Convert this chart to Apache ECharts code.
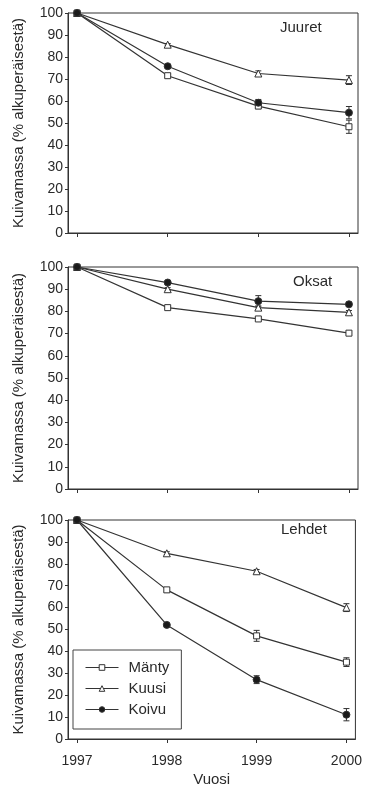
<!DOCTYPE html>
<html>
<head>
<meta charset="utf-8">
<script src="https://cdn.jsdelivr.net/npm/echarts@6/dist/echarts.min.js"></script>
<style>html,body{margin:0;padding:0;background:#fff;}#c{width:365px;height:788px;}</style>
</head>
<body>
<div id="c"></div>
<script>
const years = [1997, 1998, 1999, 2000];
const yTicks = [0, 10, 20, 30, 40, 50, 60, 70, 80, 90, 100];
const speciesNames = ['Mänty', 'Kuusi', 'Koivu'];
const panelNames = ['Juuret', 'Oksat', 'Lehdet'];

// Juuret
const juuretManty = [100, 71.5, 57.7, 48.3];
const juuretMantyErr = [0, 0.8, 1.2, 3.0];
const juuretKuusi = [100, 85.6, 72.5, 69.5];
const juuretKuusiErr = [0, 0.5, 1.2, 2.0];
const juuretKoivu = [100, 75.8, 59.2, 54.7];
const juuretKoivuErr = [0, 0.8, 1.5, 2.8];
// Oksat
const oksatManty = [100, 81.7, 76.6, 70.2];
const oksatMantyErr = [0, 0.6, 0.6, 0.6];
const oksatKuusi = [100, 90.0, 81.7, 79.6];
const oksatKuusiErr = [0, 0.7, 0.8, 0.8];
const oksatKoivu = [100, 93.0, 84.6, 83.2];
const oksatKoivuErr = [0, 0.8, 2.5, 1.0];
// Lehdet
const lehdetManty = [100, 68.1, 47.1, 35.1];
const lehdetMantyErr = [0, 1.0, 2.5, 2.0];
const lehdetKuusi = [100, 84.8, 76.6, 60.0];
const lehdetKuusiErr = [0, 0.7, 0.8, 1.8];
const lehdetKoivu = [100, 52.1, 27.1, 11.1];
const lehdetKoivuErr = [0, 0.8, 1.8, 2.8];

const panels = [
  [juuretManty, juuretKuusi, juuretKoivu],
  [oksatManty, oksatKuusi, oksatKoivu],
  [lehdetManty, lehdetKuusi, lehdetKoivu]
];
const panelErrs = [
  [juuretMantyErr, juuretKuusiErr, juuretKoivuErr],
  [oksatMantyErr, oksatKuusiErr, oksatKoivuErr],
  [lehdetMantyErr, lehdetKuusiErr, lehdetKoivuErr]
];

const FONT = '"Liberation Sans", Arial, sans-serif';
const INK = '#2a2a2a';
const LINE = '#333';

const gridDefs = [
  {top: 13, height: 220},
  {top: 267, height: 222},
  {top: 520, height: 219}
];

const grids = gridDefs.map(g => ({
  left: 68, right: 7, top: g.top, height: g.height,
  show: true, borderColor: LINE, borderWidth: 1, backgroundColor: 'transparent'
}));

const xAxes = gridDefs.map((g, i) => ({
  type: 'value', gridIndex: i, min: 1996.9, max: 2000.1,
  axisLine: {show: true, onZero: false, lineStyle: {color: LINE, width: 1}},
  axisTick: {show: true, inside: false, length: 4, customValues: years, lineStyle: {color: LINE}},
  axisLabel: {show: i === 2, customValues: years, margin: 15, color: INK, fontSize: 14, fontFamily: FONT,
    formatter: v => String(Math.round(v))},
  splitLine: {show: false},
  name: i === 2 ? 'Vuosi' : '', nameLocation: 'middle', nameGap: 33,
  nameTextStyle: {color: INK, fontSize: 15, fontFamily: FONT}
}));

const yAxes = gridDefs.map((g, i) => ({
  type: 'value', gridIndex: i, min: 0, max: 100, interval: 10,
  axisLine: {show: true, lineStyle: {color: LINE, width: 1}},
  axisTick: {show: true, inside: false, length: 3, lineStyle: {color: LINE}},
  axisLabel: {show: true, margin: 5, color: INK, fontSize: 14, fontFamily: FONT,
    formatter: v => yTicks.includes(v) ? String(v) : ''},
  splitLine: {show: false},
  name: 'Kuivamassa (% alkuperäisestä)', nameLocation: 'middle', nameGap: 42, nameRotate: 90,
  nameTextStyle: {color: INK, fontSize: 15, fontFamily: FONT}
}));

const symbols = [
  {symbol: 'rect', fill: '#fff', size: 6},
  {symbol: 'triangle', fill: '#fff', size: 7},
  {symbol: 'circle', fill: '#1a1a1a', size: 7}
];

const series = [];
panels.forEach((vals, p) => {
  vals.forEach((arr, s) => {
    const errs = panelErrs[p][s];
    series.push({
      type: 'custom', xAxisIndex: p, yAxisIndex: p, z: 1, silent: true,
      data: years.map((y, k) => [y, arr[k], errs[k]]),
      renderItem: function (params, api) {
        const x = api.value(0), y = api.value(1), e = api.value(2);
        if (!e) return null;
        const top = api.coord([x, y + e]);
        const bot = api.coord([x, y - e]);
        const w = 3;
        const st = {stroke: LINE, lineWidth: 1};
        return {type: 'group', children: [
          {type: 'line', shape: {x1: top[0], y1: top[1], x2: bot[0], y2: bot[1]}, style: st},
          {type: 'line', shape: {x1: top[0] - w, y1: top[1], x2: top[0] + w, y2: top[1]}, style: st},
          {type: 'line', shape: {x1: bot[0] - w, y1: bot[1], x2: bot[0] + w, y2: bot[1]}, style: st}
        ]};
      }
    });
    series.push({
      type: 'line', name: speciesNames[s], xAxisIndex: p, yAxisIndex: p, z: 3,
      data: years.map((y, k) => [y, arr[k]]),
      symbol: symbols[s].symbol, symbolSize: symbols[s].size, showSymbol: true,
      lineStyle: {color: LINE, width: 1.2},
      itemStyle: {color: symbols[s].fill, borderColor: LINE, borderWidth: 1},
      emphasis: {disabled: true}, animation: false
    });
  });
});

const option = {
  animation: false,
  backgroundColor: '#fff',
  grid: grids,
  xAxis: xAxes,
  yAxis: yAxes,
  series: series,
  legend: {
    data: speciesNames,
    orient: 'vertical',
    left: 73, top: 650,
    width: 106,
    padding: [10, 12, 12, 12],
    itemWidth: 33, itemHeight: 7, itemGap: 6,
    lineStyle: {width: 1, color: LINE},
    itemStyle: {borderWidth: 1, borderColor: LINE},
    borderColor: '#444', borderWidth: 1,
    backgroundColor: '#fff',
    textStyle: {color: INK, fontSize: 15, fontFamily: FONT, padding: [0, 0, 0, 5]},
    selectedMode: false
  },
  graphic: [
    {type: 'text', left: 280, top: 20, style: {text: panelNames[0], fill: INK, font: '15px ' + FONT}},
    {type: 'text', left: 293, top: 274, style: {text: panelNames[1], fill: INK, font: '15px ' + FONT}},
    {type: 'text', left: 281, top: 522, style: {text: panelNames[2], fill: INK, font: '15px ' + FONT}}
  ]
};

const chart = echarts.init(document.getElementById('c'), null, {renderer: 'canvas'});
chart.setOption(option);
</script>
</body>
</html>
